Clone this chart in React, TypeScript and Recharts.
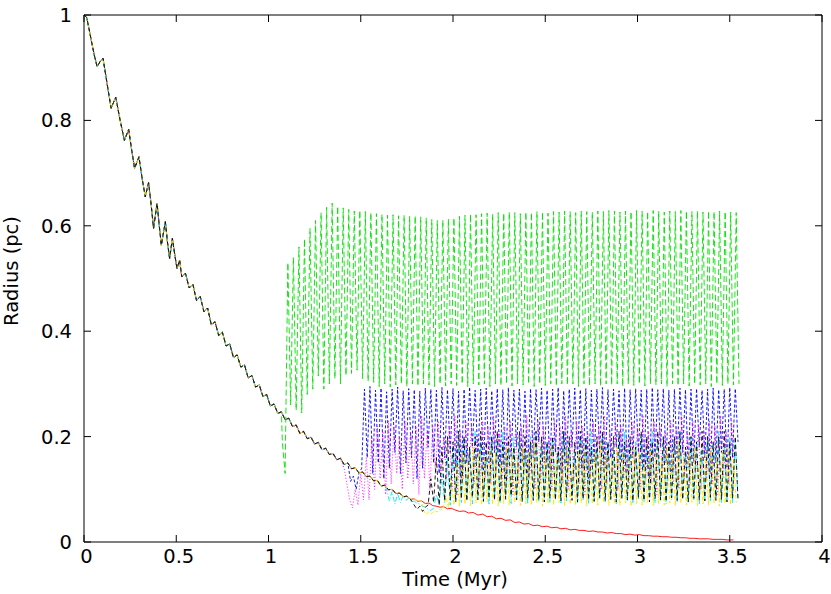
import React from 'react';
import { LineChart, Line, XAxis, YAxis } from 'recharts';

document.body.style.margin = '0';

const FONT = '"DejaVu Sans", "Liberation Sans", Arial, sans-serif';
const STEP = 0.015; // sampling interval of the oscillating tails (Myr)
const TICK_LEN = 7;

const xTicks = [0, 0.5, 1, 1.5, 2, 2.5, 3, 3.5, 4];
const yTicks = [0, 0.2, 0.4, 0.6, 0.8, 1];

// common decay track [time (Myr), radius (pc)] - red follows it to the end
const decayCurve: [number, number][] = [
  [0, 1.0], [0.015, 0.995], [0.035, 0.96], [0.055, 0.925], [0.071, 0.902], [0.088, 0.912], [0.103, 0.918],
  [0.125, 0.87], [0.147, 0.823], [0.16, 0.834], [0.172, 0.844], [0.196, 0.8], [0.219, 0.762], [0.242, 0.783],
  [0.258, 0.745], [0.274, 0.709], [0.298, 0.731], [0.315, 0.69], [0.332, 0.655], [0.35, 0.682], [0.364, 0.64],
  [0.377, 0.595], [0.396, 0.643], [0.408, 0.6], [0.419, 0.563], [0.441, 0.608], [0.452, 0.57], [0.464, 0.538],
  [0.479, 0.576], [0.492, 0.545], [0.504, 0.519], [0.518, 0.535],
  [0.53, 0.503], [0.55, 0.51], [0.57, 0.482], [0.59, 0.489], [0.61, 0.458], [0.63, 0.466], [0.65, 0.437],
  [0.67, 0.444], [0.69, 0.412], [0.71, 0.418], [0.73, 0.392], [0.75, 0.398], [0.77, 0.372], [0.79, 0.376],
  [0.81, 0.35], [0.83, 0.355], [0.85, 0.332], [0.87, 0.336], [0.89, 0.311], [0.91, 0.316], [0.93, 0.294],
  [0.95, 0.298], [0.97, 0.276], [0.99, 0.28], [1.01, 0.258], [1.03, 0.262], [1.05, 0.244], [1.07, 0.247],
  [1.09, 0.232], [1.11, 0.235], [1.13, 0.219], [1.15, 0.222], [1.17, 0.206], [1.19, 0.21], [1.21, 0.196],
  [1.23, 0.199], [1.25, 0.186], [1.27, 0.189], [1.29, 0.175], [1.31, 0.178], [1.33, 0.166], [1.35, 0.168],
  [1.37, 0.156], [1.39, 0.159], [1.41, 0.147], [1.43, 0.15], [1.45, 0.139], [1.47, 0.141], [1.49, 0.131],
  [1.51, 0.133], [1.53, 0.124], [1.55, 0.125], [1.57, 0.116], [1.59, 0.117], [1.61, 0.106], [1.63, 0.108],
  [1.65, 0.099], [1.67, 0.1], [1.69, 0.092], [1.71, 0.093], [1.73, 0.086], [1.75, 0.087], [1.77, 0.081],
  [1.79, 0.082], [1.81, 0.077], [1.83, 0.078], [1.85, 0.073], [1.87, 0.074], [1.89, 0.069], [1.91, 0.068],
  [1.93, 0.066], [1.95, 0.067], [1.97, 0.063], [1.99, 0.064], [2.01, 0.061],
  [2.035, 0.058], [2.06, 0.059], [2.085, 0.055], [2.11, 0.056], [2.135, 0.051], [2.16, 0.053], [2.185, 0.048],
  [2.21, 0.049], [2.235, 0.044], [2.26, 0.045], [2.285, 0.041], [2.31, 0.042], [2.335, 0.037], [2.36, 0.038],
  [2.385, 0.034], [2.41, 0.035], [2.435, 0.031], [2.46, 0.032], [2.485, 0.029], [2.51, 0.03], [2.535, 0.027],
  [2.56, 0.028], [2.585, 0.025], [2.61, 0.026], [2.635, 0.023], [2.66, 0.024], [2.685, 0.022], [2.71, 0.022],
  [2.735, 0.02], [2.76, 0.021], [2.785, 0.019], [2.81, 0.019], [2.835, 0.017], [2.86, 0.018], [2.885, 0.016],
  [2.91, 0.016], [2.935, 0.014], [2.96, 0.015], [2.985, 0.013], [3.01, 0.014], [3.035, 0.012], [3.06, 0.012],
  [3.085, 0.011], [3.11, 0.011], [3.135, 0.01], [3.16, 0.01], [3.185, 0.009], [3.21, 0.009], [3.235, 0.008],
  [3.26, 0.008], [3.285, 0.007], [3.31, 0.007], [3.335, 0.006], [3.36, 0.006], [3.385, 0.006], [3.41, 0.005],
  [3.435, 0.005], [3.46, 0.005], [3.485, 0.004], [3.51, 0.004], [3.52, 0.004],
];

const greenStart = 1.075;
const greenTail = [
  0.19, 0.13,
  0.53, 0.26, 0.54, 0.25, 0.56, 0.245, 0.575, 0.28, 0.595, 0.29,
  0.61, 0.315, 0.625, 0.29, 0.635, 0.3, 0.643, 0.31, 0.637, 0.3,
  0.634, 0.316, 0.631, 0.32, 0.628, 0.326, 0.629, 0.31, 0.627, 0.305,
  0.625, 0.303, 0.623, 0.295, 0.622, 0.3, 0.62, 0.294, 0.621, 0.298,
  0.619, 0.3, 0.62, 0.295, 0.618, 0.3, 0.619, 0.296, 0.617, 0.3,
  0.615, 0.298, 0.612, 0.295, 0.61, 0.3, 0.611, 0.296, 0.613, 0.3,
  0.615, 0.297, 0.618, 0.3, 0.62, 0.295, 0.622, 0.3, 0.621, 0.298,
  0.623, 0.3, 0.624, 0.295, 0.622, 0.3, 0.625, 0.297, 0.624, 0.3,
  0.626, 0.296, 0.625, 0.3, 0.623, 0.298, 0.626, 0.3, 0.625, 0.295,
  0.627, 0.3, 0.626, 0.297, 0.624, 0.3, 0.627, 0.296, 0.626, 0.3,
  0.628, 0.298, 0.627, 0.3, 0.625, 0.295, 0.628, 0.3, 0.627, 0.297,
  0.626, 0.3, 0.628, 0.296, 0.627, 0.3, 0.629, 0.298, 0.628, 0.3,
  0.626, 0.295, 0.628, 0.3, 0.627, 0.297, 0.629, 0.3, 0.628, 0.296,
  0.627, 0.3, 0.629, 0.298, 0.628, 0.3, 0.626, 0.295, 0.628, 0.3,
  0.627, 0.297, 0.629, 0.3, 0.628, 0.296, 0.627, 0.3, 0.628, 0.298,
  0.626, 0.3, 0.628, 0.295, 0.627, 0.3, 0.628, 0.297, 0.627, 0.3,
  0.626, 0.298, 0.625, 0.3,
];

const blueStart = 1.445;
const blueTail = [
  0.115, 0.125, 0.1, 0.13, 0.14,
  0.29, 0.16, 0.295, 0.13, 0.288, 0.15, 0.292, 0.12, 0.285, 0.14,
  0.29, 0.17, 0.294, 0.13, 0.287, 0.15, 0.291, 0.16, 0.289, 0.12,
  0.286, 0.14, 0.292, 0.18, 0.29, 0.15, 0.288, 0.13, 0.293, 0.16,
  0.289, 0.17, 0.291, 0.14, 0.286, 0.12, 0.29, 0.15, 0.294, 0.18,
  0.288, 0.16, 0.29, 0.13, 0.292, 0.15, 0.287, 0.17, 0.291, 0.14,
  0.289, 0.12, 0.293, 0.16, 0.288, 0.18, 0.29, 0.15, 0.286, 0.13,
  0.291, 0.16, 0.289, 0.19, 0.292, 0.15, 0.288, 0.14, 0.29, 0.17,
  0.293, 0.13, 0.287, 0.15, 0.29, 0.18, 0.292, 0.16, 0.289, 0.14,
  0.291, 0.12, 0.288, 0.15, 0.29, 0.17, 0.293, 0.14, 0.289, 0.16,
  0.29, 0.18, 0.287, 0.15, 0.292, 0.13, 0.289, 0.16, 0.291, 0.17,
  0.288, 0.14, 0.29, 0.12, 0.293, 0.16, 0.289, 0.18, 0.291, 0.15,
  0.288, 0.13, 0.29, 0.16, 0.292, 0.17, 0.289, 0.14, 0.29, 0.15,
  0.291, 0.18, 0.288, 0.16, 0.29, 0.13, 0.292, 0.15, 0.289, 0.17,
  0.29, 0.14, 0.293, 0.16, 0.291, 0.19,
];

const magentaStart = 1.41;
const magentaTail = [
  0.14, 0.11, 0.08, 0.065, 0.1, 0.07, 0.13, 0.08,
  0.16, 0.08, 0.2, 0.1, 0.22, 0.12, 0.21, 0.09, 0.23, 0.11,
  0.22, 0.13, 0.2, 0.1, 0.23, 0.12, 0.21, 0.11, 0.22, 0.09,
  0.24, 0.12, 0.21, 0.1, 0.22, 0.13, 0.23, 0.11, 0.2, 0.12,
  0.22, 0.1, 0.24, 0.09, 0.21, 0.12, 0.23, 0.13, 0.22, 0.11,
  0.2, 0.1, 0.23, 0.12, 0.22, 0.11, 0.24, 0.13, 0.21, 0.1,
  0.22, 0.12, 0.23, 0.09, 0.21, 0.11, 0.22, 0.13, 0.24, 0.12,
  0.21, 0.1, 0.23, 0.11, 0.22, 0.12, 0.2, 0.1, 0.23, 0.13,
  0.22, 0.11, 0.24, 0.1, 0.21, 0.12, 0.23, 0.11, 0.22, 0.09,
  0.21, 0.12, 0.23, 0.13, 0.22, 0.1, 0.24, 0.11, 0.21, 0.12,
  0.23, 0.1, 0.22, 0.12, 0.2, 0.11, 0.23, 0.13, 0.22, 0.1,
  0.24, 0.12, 0.21, 0.11, 0.23, 0.09, 0.22, 0.12, 0.21, 0.13,
  0.23, 0.11, 0.22, 0.1, 0.24, 0.12, 0.21, 0.11, 0.23, 0.13,
  0.22, 0.1, 0.21, 0.12, 0.23, 0.11, 0.22, 0.09, 0.24, 0.12,
  0.21, 0.11, 0.23, 0.12,
];

const cyanStart = 1.64;
const cyanTail = [
  0.1, 0.078, 0.096, 0.072, 0.092, 0.075, 0.088, 0.079, 0.083, 0.076,
  0.078, 0.073, 0.072, 0.068, 0.066, 0.062, 0.06, 0.064,
  0.09, 0.07, 0.13, 0.075, 0.16, 0.07, 0.18, 0.08, 0.19, 0.075,
  0.2, 0.08, 0.18, 0.072, 0.21, 0.085, 0.19, 0.078, 0.17, 0.07,
  0.2, 0.082, 0.19, 0.075, 0.21, 0.08, 0.18, 0.073, 0.2, 0.085,
  0.19, 0.078, 0.17, 0.072, 0.2, 0.08, 0.21, 0.076, 0.18, 0.083,
  0.19, 0.074, 0.2, 0.08, 0.18, 0.072, 0.21, 0.078, 0.19, 0.085,
  0.17, 0.075, 0.2, 0.08, 0.19, 0.073, 0.21, 0.078, 0.18, 0.082,
  0.2, 0.074, 0.19, 0.08, 0.17, 0.072, 0.2, 0.085, 0.21, 0.077,
  0.18, 0.073, 0.19, 0.08, 0.2, 0.075, 0.18, 0.082, 0.21, 0.074,
  0.19, 0.078, 0.2, 0.072, 0.18, 0.08, 0.19, 0.076, 0.21, 0.083,
  0.17, 0.074, 0.2, 0.079, 0.19, 0.072, 0.18, 0.08, 0.2, 0.076,
  0.19, 0.082, 0.21, 0.074, 0.18, 0.078, 0.2, 0.073, 0.19, 0.08,
];

const yellowStart = 1.84;
const yellowTail = [
  0.06, 0.052, 0.058, 0.054, 0.06, 0.057, 0.063, 0.06,
  0.09, 0.065, 0.12, 0.07, 0.15, 0.068, 0.17, 0.072, 0.16, 0.069,
  0.18, 0.074, 0.17, 0.07, 0.16, 0.076, 0.18, 0.071, 0.17, 0.068,
  0.15, 0.073, 0.18, 0.07, 0.17, 0.075, 0.16, 0.069, 0.18, 0.072,
  0.17, 0.07, 0.19, 0.074, 0.16, 0.068, 0.17, 0.073, 0.18, 0.07,
  0.16, 0.075, 0.17, 0.069, 0.18, 0.072, 0.15, 0.07, 0.17, 0.074,
  0.18, 0.068, 0.16, 0.073, 0.17, 0.07, 0.19, 0.075, 0.17, 0.069,
  0.16, 0.072, 0.18, 0.07, 0.17, 0.074, 0.16, 0.068, 0.18, 0.073,
  0.17, 0.07, 0.15, 0.075, 0.18, 0.069, 0.17, 0.072, 0.16, 0.07,
  0.18, 0.074, 0.17, 0.068, 0.19, 0.073, 0.16, 0.07, 0.17, 0.075,
  0.18, 0.069, 0.16, 0.072, 0.17, 0.07, 0.18, 0.074, 0.16, 0.068,
  0.17, 0.073, 0.18, 0.07, 0.16, 0.075,
];

const blackStart = 1.79;
const blackTail = [
  0.07, 0.062, 0.068, 0.058, 0.066, 0.07,
  0.12, 0.075, 0.16, 0.07, 0.18, 0.078, 0.2, 0.08, 0.19, 0.076,
  0.21, 0.082, 0.2, 0.078, 0.18, 0.085, 0.2, 0.08, 0.21, 0.077,
  0.19, 0.083, 0.2, 0.079, 0.21, 0.076, 0.19, 0.082, 0.2, 0.088,
  0.18, 0.08, 0.21, 0.077, 0.2, 0.084, 0.19, 0.079, 0.21, 0.081,
  0.2, 0.076, 0.19, 0.083, 0.2, 0.08, 0.18, 0.078, 0.21, 0.085,
  0.2, 0.079, 0.19, 0.076, 0.21, 0.082, 0.2, 0.08, 0.18, 0.077,
  0.2, 0.084, 0.21, 0.079, 0.19, 0.081, 0.2, 0.076, 0.21, 0.083,
  0.19, 0.08, 0.2, 0.078, 0.18, 0.085, 0.21, 0.079, 0.2, 0.076,
  0.19, 0.082, 0.21, 0.08, 0.2, 0.077, 0.19, 0.084, 0.2, 0.079,
  0.21, 0.081, 0.18, 0.076, 0.2, 0.083, 0.19, 0.08, 0.21, 0.078,
  0.2, 0.085, 0.19, 0.079, 0.2, 0.081, 0.21, 0.076, 0.19, 0.083,
  0.2, 0.078,
];

interface Point {
  t: number;
  r: number;
}

// decay track up to the point where a cluster leaves it, then its own samples
const withTail = (start: number, tail: number[]): Point[] => [
  ...decayCurve.filter(([t]) => t < start).map(([t, r]) => ({ t, r })),
  ...tail.map((r, i) => ({ t: +(start + i * STEP).toFixed(4), r })),
];

const series = [
  { id: 'red', data: decayCurve.map(([t, r]) => ({ t, r })), color: '#ff0000', dash: undefined },
  { id: 'green', data: withTail(greenStart, greenTail), color: '#00e000', dash: '6 3' },
  { id: 'blue', data: withTail(blueStart, blueTail), color: '#0000ff', dash: '3 2' },
  { id: 'magenta', data: withTail(magentaStart, magentaTail), color: '#ff00ff', dash: '1 2' },
  { id: 'cyan', data: withTail(cyanStart, cyanTail), color: '#00e5ff', dash: '5 2 1 2' },
  { id: 'yellow', data: withTail(yellowStart, yellowTail), color: '#ffe600', dash: '4 2' },
  { id: 'black', data: withTail(blackStart, blackTail), color: '#000000', dash: '4 3' },
];

const axisStroke = { stroke: '#000', strokeWidth: 1 };
const labelStyle = { fontSize: 19.5, fill: '#000', fontFamily: FONT };

// gnuplot-style ticks: short marks pointing into the plot, labels outside
const BOTTOM_GAP = 7;
const LEFT_GAP = 12;

const BottomTick = (props: any) => {
  const { x, y, payload } = props;
  const axisY = y - BOTTOM_GAP;
  return (
    <g>
      <line x1={x} x2={x} y1={axisY} y2={axisY - TICK_LEN} stroke="#000" />
      <text x={x + 2.5} y={y} dy="0.71em" textAnchor="middle" {...labelStyle}>
        {String(payload.value)}
      </text>
    </g>
  );
};

const TopTick = (props: any) => {
  const { x, y } = props;
  return <line x1={x} x2={x} y1={y} y2={y + TICK_LEN} stroke="#000" />;
};

const LeftTick = (props: any) => {
  const { x, y, payload } = props;
  const axisX = x + LEFT_GAP;
  return (
    <g>
      <line x1={axisX} x2={axisX + TICK_LEN} y1={y} y2={y} stroke="#000" />
      <text x={x} y={y} dy="0.355em" textAnchor="end" {...labelStyle}>
        {String(payload.value)}
      </text>
    </g>
  );
};

const RightTick = (props: any) => {
  const { x, y } = props;
  return <line x1={x} x2={x - TICK_LEN} y1={y} y2={y} stroke="#000" />;
};

const App: React.FC = () => {
  return (
    <div style={{ position: 'relative', width: 831, height: 594, background: '#fff' }}>
      <LineChart width={831} height={594} margin={{ top: 14, right: 8, bottom: 0, left: 0 }}>
        <XAxis
          xAxisId="bottom"
          type="number"
          dataKey="t"
          domain={[0, 4]}
          ticks={xTicks}
          interval={0}
          allowDataOverflow
          height={52}
          tickSize={0}
          tickMargin={BOTTOM_GAP}
          axisLine={axisStroke}
          tickLine={false}
          tick={BottomTick}
        />
        <XAxis
          xAxisId="top"
          orientation="top"
          type="number"
          dataKey="t"
          domain={[0, 4]}
          ticks={xTicks}
          interval={0}
          allowDataOverflow
          height={1}
          tickSize={0}
          tickMargin={0}
          axisLine={axisStroke}
          tickLine={false}
          tick={TopTick}
        />
        <YAxis
          yAxisId="left"
          type="number"
          domain={[0, 1]}
          ticks={yTicks}
          interval={0}
          allowDataOverflow
          width={84}
          tickSize={0}
          tickMargin={LEFT_GAP}
          axisLine={axisStroke}
          tickLine={false}
          tick={LeftTick}
        />
        <YAxis
          yAxisId="right"
          orientation="right"
          type="number"
          domain={[0, 1]}
          ticks={yTicks}
          interval={0}
          allowDataOverflow
          width={1}
          tickSize={0}
          tickMargin={0}
          axisLine={axisStroke}
          tickLine={false}
          tick={RightTick}
        />
        {series.map((s) => (
          <Line
            key={s.id}
            xAxisId="bottom"
            yAxisId="left"
            data={s.data}
            dataKey="r"
            type="linear"
            stroke={s.color}
            strokeWidth={0.9}
            strokeDasharray={s.dash}
            dot={false}
            activeDot={false}
            isAnimationActive={false}
          />
        ))}
      </LineChart>
      <div
        style={{
          position: 'absolute',
          left: 455,
          top: 571,
          transform: 'translateX(-50%)',
          fontFamily: FONT,
          fontSize: 19.5,
          lineHeight: '18px',
          whiteSpace: 'nowrap',
        }}
      >
        Time (Myr)
      </div>
      <div
        style={{
          position: 'absolute',
          left: 11,
          top: 271,
          transform: 'translate(-50%, -50%) rotate(-90deg)',
          fontFamily: FONT,
          fontSize: 19.5,
          lineHeight: '21px',
          whiteSpace: 'nowrap',
        }}
      >
        Radius (pc)
      </div>
    </div>
  );
};

export default App;
